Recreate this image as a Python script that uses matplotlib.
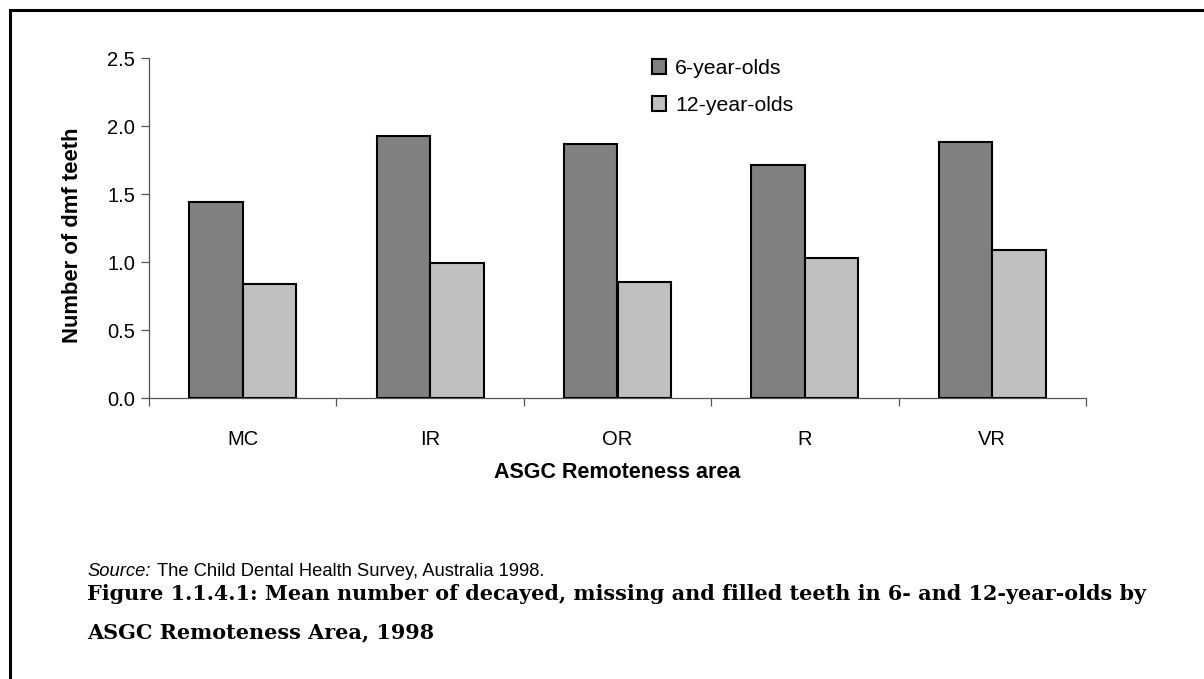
import matplotlib
matplotlib.use("Agg")
import matplotlib.pyplot as plt
import numpy as np
from matplotlib.patches import Rectangle

# Mean dmf teeth by ASGC remoteness area, 1998
areas = ["MC", "IR", "OR", "R", "VR"]
six_year_olds = [1.44, 1.93, 1.87, 1.71, 1.88]
twelve_year_olds = [0.84, 0.99, 0.85, 1.03, 1.09]
series_names = ["6-year-olds", "12-year-olds"]
yticks = [0.0, 0.5, 1.0, 1.5, 2.0, 2.5]

plt.rcParams["font.family"] = ["Liberation Sans", "DejaVu Sans"]

W, H = 1204, 679
fig = plt.figure(figsize=(W / 100, H / 100), dpi=100)
fig.patch.set_facecolor("white")

# frame around the figure block (right and bottom run off the page)
fig.patches.append(Rectangle((10 / W, -0.1), 1.2, 1 - 10 / H + 0.1,
                             transform=fig.transFigure, fill=False,
                             edgecolor="black", linewidth=2.2))

ax_l, ax_r, ax_b, ax_t = 149, 1086, 398, 58
ax = fig.add_axes([ax_l / W, 1 - ax_b / H, (ax_r - ax_l) / W, (ax_b - ax_t) / H])

x = np.arange(len(areas))
w = 1 / 3.5
ax.bar(x - w / 2, six_year_olds, w, color="#808080", edgecolor="black",
       linewidth=1.5, label=series_names[0], zorder=3)
ax.bar(x + w / 2, twelve_year_olds, w, color="#c0c0c0", edgecolor="black",
       linewidth=1.5, label=series_names[1], zorder=3)

ax.set_xlim(-0.5, len(areas) - 0.5)
ax.set_ylim(0, 2.5)
ax.set_yticks(yticks)
ax.set_yticklabels([f"{v:.1f}" for v in yticks], fontsize=14.5)

# category labels centred, ticks at the category boundaries
ax.set_xticks(x)
ax.set_xticklabels(areas, fontsize=14.5)
ax.tick_params(axis="x", which="major", length=0, pad=30)
ax.set_xticks(np.arange(len(areas) + 1) - 0.5, minor=True)
ax.tick_params(axis="x", which="minor", length=6, width=0.9, color="#555555")
ax.tick_params(axis="y", length=6, width=0.9, color="#555555", pad=4)
for lbl in ax.get_xticklabels():
    lbl.set_verticalalignment("center")

for s in ["top", "right"]:
    ax.spines[s].set_visible(False)
for s in ["left", "bottom"]:
    ax.spines[s].set_color("#555555")
    ax.spines[s].set_linewidth(0.9)

ax.set_ylabel("Number of dmf teeth", fontsize=15.8, fontweight="bold")
ax.yaxis.set_label_coords((73 - ax_l) / (ax_r - ax_l), 0.48)
ax.yaxis.label.set_verticalalignment("center")
ax.set_xlabel("ASGC Remoteness area", fontsize=15.5, fontweight="bold")
ax.xaxis.set_label_coords(0.5, -(473 - ax_b) / (ax_b - ax_t))
ax.xaxis.label.set_verticalalignment("center")

leg = ax.legend(loc="center left",
                bbox_to_anchor=((652 - ax_l) / (ax_r - ax_l), (ax_b - 87) / (ax_b - ax_t)),
                frameon=False, fontsize=15.3, handlelength=0.65, handleheight=0.65,
                handletextpad=0.45, labelspacing=0.85, borderpad=0, borderaxespad=0)

fig.text(87 / W, 1 - 571 / H, "Source:", fontsize=13.2, style="italic", va="center")
fig.text(157 / W, 1 - 571 / H, "The Child Dental Health Survey, Australia 1998.",
         fontsize=13.2, va="center")

title_font = ["DejaVu Serif"]
fig.text(87 / W, 1 - 594 / H,
         "Figure 1.1.4.1: Mean number of decayed, missing and filled teeth in 6- and 12-year-olds by",
         fontsize=14.95, fontweight="bold", family=title_font, va="center")
fig.text(87 / W, 1 - 632 / H, "ASGC Remoteness Area, 1998",
         fontsize=14.95, fontweight="bold", family=title_font, va="center")

fig.savefig("out.png", dpi=100, facecolor="white")
